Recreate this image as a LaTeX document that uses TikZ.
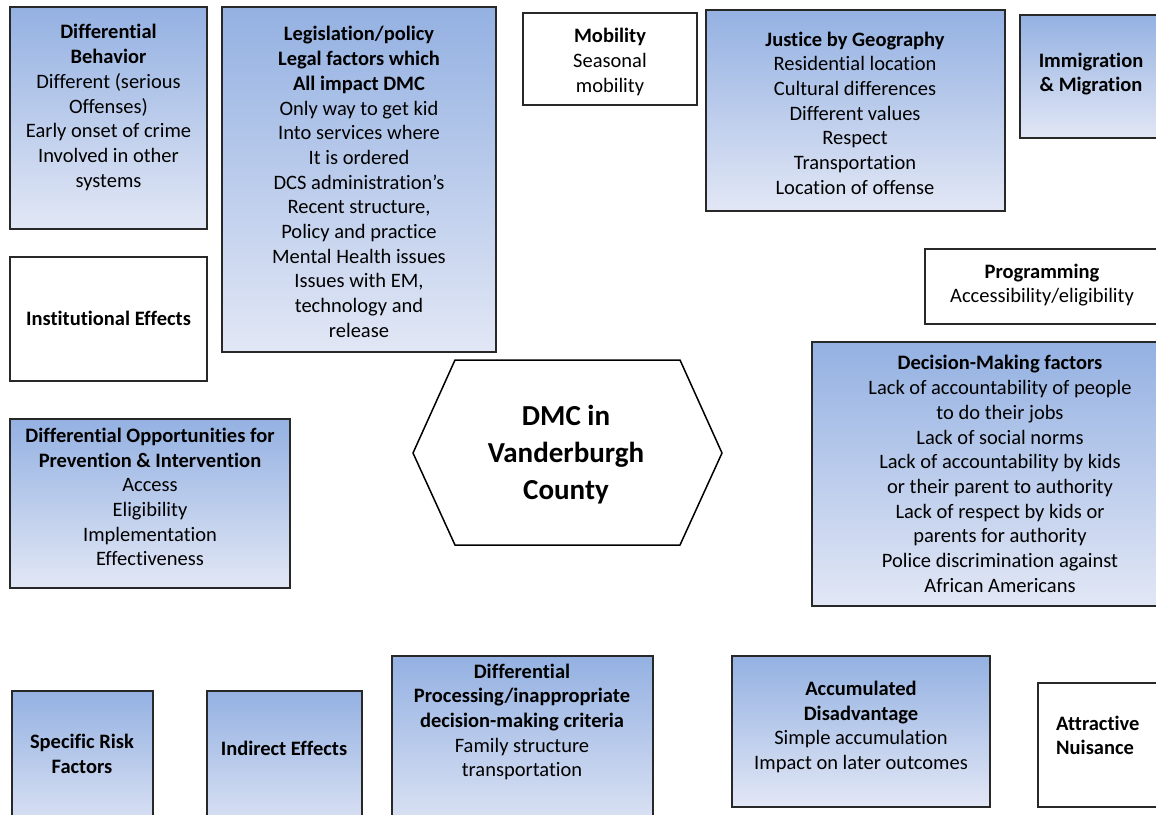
\documentclass[tikz,border=0pt]{standalone}
\usepackage{fontspec}
\setmainfont{Carlito}[Ligatures=NoCommon]
\definecolor{topblue}{RGB}{148,177,226}
\definecolor{botblue}{RGB}{226,231,245}
\definecolor{edge}{RGB}{40,40,40}
\begin{document}
\begin{tikzpicture}[x=1pt,y=-1pt,
  bbox/.style={draw=edge, line width=2pt, top color=topblue, bottom color=botblue, inner sep=0pt, rectangle},
  wbox/.style={draw=edge, line width=2pt, fill=white, inner sep=0pt, rectangle},
  txt/.style={align=center, font=\fontsize{20.5}{24.7}\selectfont, inner sep=0pt},
  big/.style={align=center, font=\fontsize{29}{37}\selectfont\bfseries, inner sep=0pt}]
\useasboundingbox (0,0) rectangle (1156,814);
\fill[white] (0,0) rectangle (1156,814);

% boxes
\node[bbox, minimum width=197pt, minimum height=222pt] (bA) at (108.5,118) {};
\node[bbox, minimum width=274pt, minimum height=345pt] (bB) at (359,179.5) {};
\node[wbox, minimum width=197pt, minimum height=124pt] (bInst) at (108.5,319) {};
\node[wbox, minimum width=174pt, minimum height=92pt] (bMob) at (610,59) {};
\node[bbox, minimum width=299pt, minimum height=201pt] (bJus) at (855.5,110.5) {};
\node[bbox, minimum width=142pt, minimum height=123pt] (bImm) at (1091,76.5) {};
\node[wbox, minimum width=234pt, minimum height=75pt] (bProg) at (1042,286.5) {};
\node[bbox, minimum width=378pt, minimum height=264pt] (bDec) at (1001,474) {};
\node[bbox, minimum width=280pt, minimum height=169pt] (bOpp) at (150,503.5) {};
\node[bbox, minimum width=141pt, minimum height=149pt] (bSpec) at (82.5,765.5) {};
\node[bbox, minimum width=155pt, minimum height=149pt] (bInd) at (284.5,765.5) {};
\node[bbox, minimum width=261pt, minimum height=184pt] (bProc) at (522.5,748) {};
\node[bbox, minimum width=258pt, minimum height=151pt] (bAcc) at (861,731.5) {};
\node[wbox, minimum width=162pt, minimum height=124pt] (bAttr) at (1119,745) {};

% hexagon
\coordinate (h1) at (413,453);
\coordinate (h2) at (455,360);
\coordinate (h3) at (680,360);
\coordinate (h4) at (722,453);
\coordinate (h5) at (680,545);
\coordinate (h6) at (455,545);
\draw[line width=1.5pt, fill=white] (h1) -- (h2) -- (h3) -- (h4) -- (h5) -- (h6) -- cycle;
\node[big] (dmc) at (566,455) {DMC in\\Vanderburgh\\County};

% texts
\node[txt] (tA) at (108.5,107.5) {\textbf{Differential}\\\textbf{Behavior}\\Different (serious\\Offenses)\\Early onset of crime\\Involved in other\\systems};
\node[txt] (tB) at (359,182) {\textbf{Legislation/policy}\\\textbf{Legal factors which}\\\textbf{All impact DMC}\\Only way to get kid\\Into services where\\It is ordered\\DCS administration’s\\Recent structure,\\Policy and practice\\Mental Health issues\\Issues with EM,\\technology and\\release};
\node[txt] (tInst) at (108.5,318) {\textbf{Institutional Effects}};
\node[txt] (tMob) at (610,62) {\textbf{Mobility}\\Seasonal\\mobility};
\node[txt] (tJus) at (855,113) {\textbf{Justice by Geography}\\Residential location\\Cultural differences\\Different values\\Respect\\Transportation\\Location of offense};
\node[txt] (tImm) at (1091,74) {\textbf{Immigration}\\\textbf{\& Migration}};
\node[txt] (tProg) at (1042,285) {\textbf{Programming}\\Accessibility/eligibility};
\node[txt] (tDec) at (1000,474) {\textbf{Decision-Making factors}\\Lack of accountability of people\\to do their jobs\\Lack of social norms\\Lack of accountability by kids\\or their parent to authority\\Lack of respect by kids or\\parents for authority\\Police discrimination against\\African Americans};
\node[txt] (tOpp) at (150,497) {\textbf{Differential Opportunities for}\\\textbf{Prevention \& Intervention}\\Access\\Eligibility\\Implementation\\Effectiveness};
\node[txt] (tSpec) at (82,754) {\textbf{Specific Risk}\\\textbf{Factors}};
\node[txt] (tInd) at (284,748) {\textbf{Indirect Effects}};
\node[txt] (tProc) at (522,722) {\textbf{Differential}\\\textbf{Processing/inappropriate}\\\textbf{decision-making criteria}\\Family structure\\transportation};
\node[txt] (tAcc) at (861,727) {\textbf{Accumulated}\\\textbf{Disadvantage}\\Simple accumulation\\Impact on later outcomes};
\node[txt, align=left, anchor=west] (tAttr) at (1056,735.5) {\textbf{Attractive}\\\textbf{Nuisance}};
\end{tikzpicture}
\end{document}
